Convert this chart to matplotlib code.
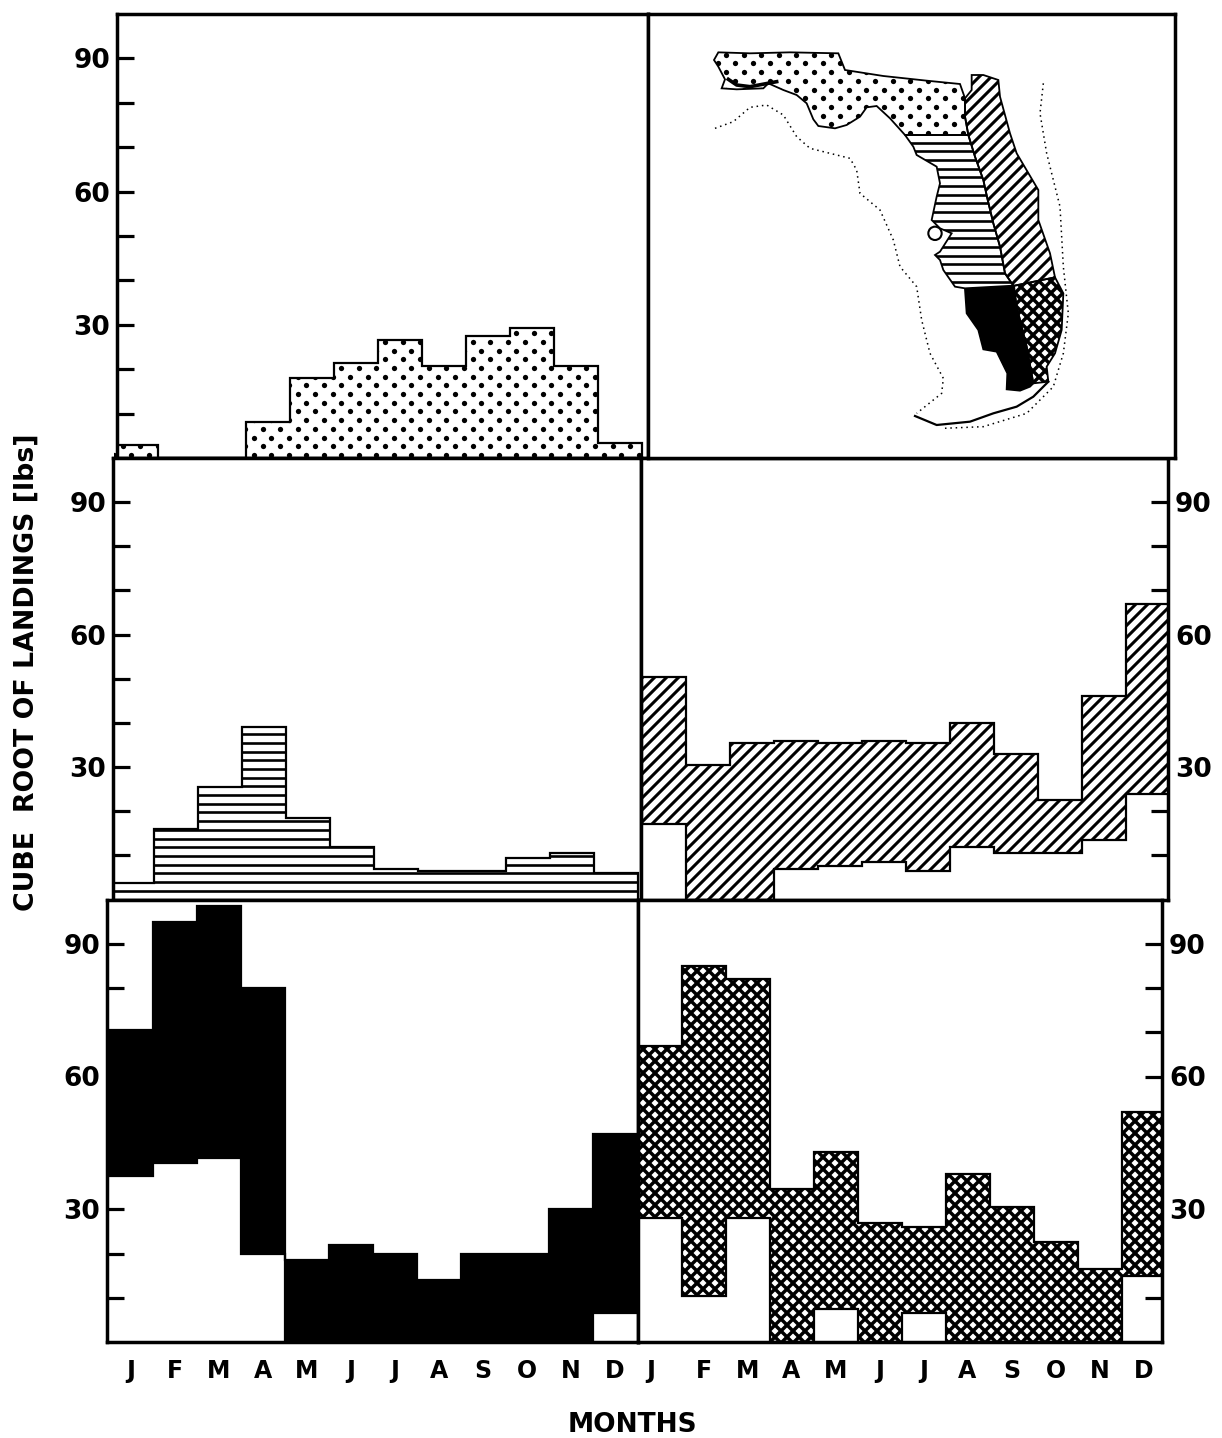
"""Cube root of monthly landings by Florida coastal region, six panel figure."""
import matplotlib
matplotlib.use("Agg")
import matplotlib.pyplot as plt
import numpy as np
from matplotlib.collections import LineCollection
from matplotlib.patches import Circle, Polygon
from matplotlib.transforms import IdentityTransform

W, H, DPI = 1222, 1438, 100
BAR_PX = 44.0

MONTHS = ["J", "F", "M", "A", "M", "J", "J", "A", "S", "O", "N", "D"]

# top / bottom of each month
nw_top = [3, 0, 0, 8, 18, 21.5, 26.5, 20.8, 27.5, 29.3, 20.8, 3.3]
nw_bot = [0] * 12
wc_top = [3.7, 16, 25.5, 39, 18.5, 12, 7, 6.5, 6.5, 9.5, 10.5, 6]
wc_bot = [0] * 12
ec_top = [50.5, 30.5, 35.5, 36, 35.5, 36, 35.5, 40, 33, 22.5, 46, 67]
ec_bot = [17, 0, 0, 7, 7.5, 8.5, 6.5, 12, 10.5, 10.5, 13.5, 24]
sw_top = [70.5, 95, 98.5, 80, 18.5, 22, 20, 14, 20, 20, 30, 47]
sw_bot = [37.5, 40.5, 41.5, 20, 0, 0, 0, 0, 0, 0, 0, 6.5]
se_top = [67, 85, 82, 34.5, 43, 27, 26, 38, 30.5, 22.5, 16.5, 52]
se_bot = [28, 10.5, 28, 0, 7.5, 0, 6.5, 0, 0, 0, 0, 15]

# map outlines, in units of 1/3 pixel from (650, 20)
map_nw = [(192, 120), (205, 97), (300, 100), (420, 97), (565, 100), (585, 150), (700, 168),
          (830, 182), (930, 192), (945, 235), (945, 290), (955, 345), (765, 345), (720, 295),
          (680, 258), (650, 262), (630, 290), (590, 315), (555, 325), (505, 318), (490, 298),
          (470, 250), (440, 225), (400, 210), (355, 190), (340, 205), (260, 208), (215, 205),
          (225, 178), (205, 140)]
map_split = [(955, 345), (975, 410), (1000, 480), (1012, 535), (1030, 610), (1050, 680),
             (1065, 760), (1090, 797)]
map_wc_coast = [(945, 805), (915, 800), (880, 750), (870, 720), (855, 705), (870, 695),
                (905, 640), (870, 625), (845, 600), (860, 530), (870, 490), (860, 440),
                (800, 405), (790, 380), (765, 345)]
map_ec_coast = [(945, 235), (965, 210), (965, 165), (1000, 165), (1045, 180), (1050, 230),
                (1080, 340), (1100, 400), (1165, 510), (1165, 600), (1200, 700), (1215, 772),
                (1095, 797)]
map_se = [(1092, 797), (1215, 772), (1240, 820), (1235, 930), (1215, 1000), (1190, 1040),
          (1195, 1085), (1150, 1090), (1130, 980), (1100, 860)]
map_sw = [(945, 808), (1090, 800), (1100, 860), (1130, 980), (1150, 1090), (1140, 1100),
          (1110, 1112), (1070, 1108), (1072, 1060), (1040, 995), (1000, 988), (985, 930),
          (950, 880)]
map_tail = [(1195, 1085), (1150, 1130), (1100, 1160), (1030, 1180), (960, 1205), (860, 1215),
            (795, 1188)]
map_bay = [(235, 178), (260, 195), (300, 200), (380, 185)]
shelf_west = [(195, 325), (250, 305), (300, 262), (350, 255), (400, 285), (440, 350), (480, 385),
              (600, 415), (620, 450), (630, 520), (690, 570), (730, 660), (750, 740), (800, 800),
              (815, 900), (840, 1000), (880, 1075), (875, 1120), (800, 1180)]
shelf_east = [(1180, 190), (1170, 280), (1190, 400), (1230, 560), (1240, 740), (1255, 880),
              (1240, 1000), (1210, 1100), (1130, 1180), (1000, 1220), (880, 1225)]

plt.rcParams["font.family"] = ["DejaVu Sans"]
plt.rcParams["font.weight"] = "bold"
fig = plt.figure(figsize=(W / DPI, H / DPI), dpi=DPI)


def make_axes(x0, y0, x1, y1):
    ax = fig.add_axes([x0 / W, 1 - y1 / H, (x1 - x0) / W, (y1 - y0) / H])
    for s in ax.spines.values():
        s.set_linewidth(2.5)
    ax.set_autoscale_on(False)
    return ax


def texture(ax, kind, clip):
    """Shade in display pixels so the pattern is the same in charts and map."""
    arts = []
    if kind == "dots":
        for k, y in enumerate(np.arange(0, H, 8.7)):
            x = np.arange(8.75 if k % 2 else 0, W, 17.5)
            arts += ax.plot(x, np.full_like(x, y), "o", ms=3.8, mec="none", color="black",
                            transform=IdentityTransform(), scalex=False, scaley=False)
    if kind == "lines":
        segs = [[(0, y), (W, y)] for y in np.arange(H - 899.5, H, 8.7)]
        segs += [[(0, y), (W, y)] for y in np.arange(H - 899.5, 0, -8.7)]
        arts.append(LineCollection(segs, colors="black", linewidths=1.9,
                                   transform=IdentityTransform()))
    if kind in ("diag", "cross"):
        lw = 2.2 if kind == "diag" else 2.5
        segs = [[(x, 0), (x + H, H)] for x in np.arange(-H, W, 12)]
        if kind == "cross":
            segs += [[(x, 0), (x - H, H)] for x in np.arange(0, W + H, 12)]
        arts.append(LineCollection(segs, colors="black", linewidths=lw,
                                   transform=IdentityTransform()))
    for a in arts:
        if isinstance(a, LineCollection):
            ax.add_collection(a, autolim=False)
        a.set_clip_path(clip)
        a.set_zorder(3)


def bars_panel(rect, origin, top, bot, kind, side="left", month_pos=None):
    x0, y0, x1, y1 = rect
    ax = make_axes(*rect)
    ax.set_xlim((x0 - origin) / BAR_PX, (x1 - origin) / BAR_PX)
    ax.set_ylim(0, 100)
    edges = np.arange(13)
    face = "black" if kind == "solid" else "white"
    base = ax.stairs(top, edges, baseline=bot, fill=True, facecolor=face, edgecolor="none", zorder=2)
    if kind != "solid":
        texture(ax, kind, base)
    ax.stairs(top, edges, baseline=bot, fill=True, facecolor="none", edgecolor="black",
              linewidth=1.6, zorder=4)
    ax.set_yticks([30, 60, 90])
    ax.set_yticks([10, 20, 40, 50, 70, 80], minor=True)
    ax.tick_params(axis="y", which="both", direction="in", length=12.5, width=2.3, pad=5,
                   labelsize=19, left=side == "left", right=side == "right",
                   labelleft=side == "left", labelright=side == "right")
    if month_pos is None:
        ax.set_xticks([])
    else:
        ax.set_xticks(month_pos)
        ax.set_xticklabels(MONTHS)
        ax.tick_params(axis="x", length=0, pad=12, labelsize=17)
    return ax


centres = np.arange(12) + 0.5
centres_right = centres.copy()
centres_right[0] = 0.3

bars_panel((117, 14, 648, 458), 114, nw_top, nw_bot, "dots")
bars_panel((113, 458, 641, 899.5), 109.5, wc_top, wc_bot, "lines")
bars_panel((641, 458, 1168, 899.5), 642, ec_top, ec_bot, "diag", side="right")
bars_panel((107, 899.5, 638, 1342), 109, sw_top, sw_bot, "solid", month_pos=centres)
bars_panel((638, 899.5, 1162, 1342), 637.5, se_top, se_bot, "cross", side="right",
           month_pos=centres_right)

# map panel
mp = make_axes(648, 14, 1175, 458)
mp.set_xlim((648 - 650) * 3, (1175 - 650) * 3)
mp.set_ylim((458 - 20) * 3, (14 - 20) * 3)
mp.set_xticks([])
mp.set_yticks([])

regions = [
    (map_nw, "dots"),
    (map_split + map_wc_coast, "lines"),
    (map_ec_coast + map_split[::-1] + [(945, 290)], "diag"),
    (map_se, "cross"),
    (map_sw, "solid"),
]
for pts, kind in regions:
    face = "black" if kind == "solid" else "white"
    region = Polygon(pts, closed=True, facecolor=face, edgecolor="none", zorder=2)
    mp.add_patch(region)
    if kind != "solid":
        texture(mp, kind, region)
    mp.add_patch(Polygon(pts, closed=True, facecolor="none", edgecolor="black",
                         linewidth=1.3, zorder=4))
mp.add_patch(Circle((855, 640), 20, facecolor="white", edgecolor="black", linewidth=1.5, zorder=5))
mp.plot(*zip(*map_tail), color="black", lw=1.6, zorder=4)
mp.plot(*zip(*map_bay), color="black", lw=2.6, zorder=4)
for shelf in (shelf_west, shelf_east):
    mp.plot(*zip(*shelf), color="black", lw=1.1, ls=(0, (1, 2.5)), zorder=4)

fig.text(27 / W, 1 - 672 / H, "CUBE  ROOT OF LANDINGS [lbs]", rotation=90, ha="center", va="center",
         fontsize=19.3)
fig.text(632 / W, 1 - 1425 / H, "MONTHS", ha="center", va="center", fontsize=19)

fig.savefig("out.png", dpi=DPI)
plt.close(fig)
